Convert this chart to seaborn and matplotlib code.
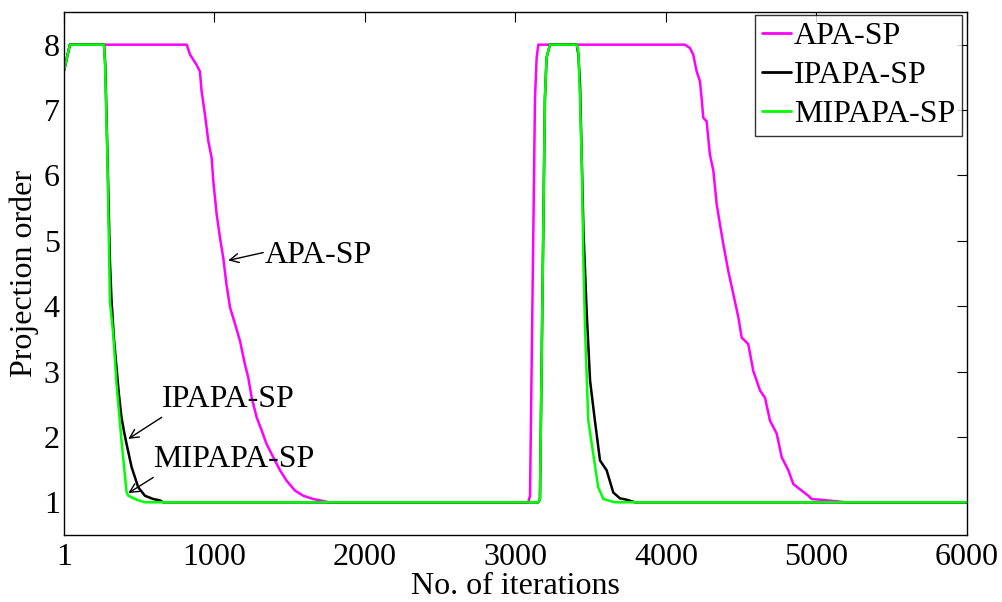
import matplotlib
matplotlib.use("Agg")
import matplotlib.pyplot as plt
import seaborn as sns
import pandas as pd

# ---- data ----
apa_x = [1, 40, 816, 838, 882, 904, 915, 937, 960, 982, 993, 1015, 1037, 1059, 1080, 1104,
         1137, 1170, 1203, 1225, 1248, 1281, 1314, 1347, 1391, 1436, 1480, 1535, 1591, 1657,
         1702, 1760, 3085, 3097, 3108, 3119, 3130, 3141, 3152,
         4126, 4159, 4181, 4204, 4226, 4237, 4248, 4270, 4292, 4315, 4337, 4359, 4381, 4414,
         4448, 4481, 4503, 4547, 4580, 4625, 4658, 4691, 4736, 4769, 4813, 4846, 4901, 4946,
         4968, 5023, 5110, 5200, 6000]
apa_y = [7.6, 8.0, 8.0, 7.85, 7.69, 7.59, 7.29, 6.94, 6.52, 6.27, 5.91, 5.41, 5.05, 4.74, 4.34, 3.98,
         3.73, 3.47, 3.11, 2.91, 2.60, 2.30, 2.10, 1.89, 1.69, 1.49, 1.33, 1.18, 1.10, 1.05,
         1.03, 1.0, 1.0, 1.1, 3.12, 5.15, 7.18, 7.8, 8.0,
         8.0, 7.95, 7.85, 7.59, 7.44, 7.18, 6.88, 6.83, 6.32, 6.07, 5.56, 5.25, 4.95, 4.54,
         4.18, 3.83, 3.52, 3.42, 3.01, 2.71, 2.60, 2.25, 2.05, 1.69, 1.49, 1.28, 1.18, 1.10,
         1.05, 1.04, 1.02, 1.0, 1.0]

ipapa_x = [1, 40, 267, 275, 290, 306, 317, 333, 350, 366, 383, 400, 417, 450, 494, 539, 594, 638, 660,
           3152, 3163, 3174, 3185, 3196, 3207, 3229, 3407, 3418, 3429, 3452, 3474, 3496, 3528,
           3562, 3606, 3650, 3695, 3739, 3794, 6000]
ipapa_y = [7.6, 8.0, 8.0, 7.7, 6.3, 4.7, 4.08, 3.5, 3.06, 2.65, 2.30, 2.08, 1.89, 1.54, 1.23, 1.10, 1.05, 1.03, 1.0,
           1.0, 1.05, 3.11, 5.15, 7.18, 7.8, 8.0, 8.0, 7.85, 7.4, 5.15, 3.88, 2.86, 2.25,
           1.64, 1.49, 1.15, 1.06, 1.04, 1.0, 1.0]

mipapa_x = [1, 40, 267, 275, 290, 306, 328, 350, 383, 417, 428, 483, 540,
            3152, 3163, 3174, 3185, 3196, 3207, 3229, 3407, 3418, 3429, 3441, 3452, 3463, 3484,
            3517, 3550, 3584, 3661, 6000]
mipapa_y = [7.6, 8.0, 8.0, 7.6, 6.2, 4.08, 3.57, 2.81, 1.94, 1.15, 1.10, 1.04, 1.0,
            1.0, 1.05, 3.11, 5.15, 7.18, 7.8, 8.0, 8.0, 7.9, 7.18, 6.17, 4.64, 3.62, 2.25,
            1.74, 1.23, 1.05, 1.0, 1.0]

series_names = ["APA-SP", "IPAPA-SP", "MIPAPA-SP"]
series_colors = ["#FF00FF", "#000000", "#00FF00"]
x_ticks = [1, 1000, 2000, 3000, 4000, 5000, 6000]
y_ticks = [1, 2, 3, 4, 5, 6, 7, 8]

df = pd.concat([
    pd.DataFrame({"x": apa_x, "y": apa_y, "series": series_names[0]}),
    pd.DataFrame({"x": ipapa_x, "y": ipapa_y, "series": series_names[1]}),
    pd.DataFrame({"x": mipapa_x, "y": mipapa_y, "series": series_names[2]}),
], ignore_index=True)

sns.set_style("white")
plt.rcParams["font.family"] = ["Liberation Serif", "DejaVu Serif"]
plt.rcParams["text.color"] = "black"
plt.rcParams["axes.labelcolor"] = "black"
plt.rcParams["xtick.color"] = "black"
plt.rcParams["ytick.color"] = "black"
plt.rcParams["legend.labelcolor"] = "black"

FS = 23

fig = plt.figure(figsize=(10.03, 6.02), dpi=100)
ax = fig.add_axes([0.0638, 0.1113, 0.9003, 0.8688])

sns.lineplot(data=df, x="x", y="y", hue="series", hue_order=series_names,
             palette=dict(zip(series_names, series_colors)), estimator=None, sort=False,
             linewidth=1.8, ax=ax)

ax.set_xlim(1, 6000)
ax.set_ylim(0.5, 8.5)
ax.set_xticks(x_ticks)
ax.set_xticklabels([str(t) for t in x_ticks])
ax.set_yticks(y_ticks)
ax.set_yticklabels([str(t) for t in y_ticks])
ax.tick_params(direction="in", length=7, width=0.8, top=True, right=True,
               labelsize=FS, colors="black", labelcolor="black")
ax.tick_params(axis="x", pad=6)
ax.tick_params(axis="y", pad=3)
for s in ax.spines.values():
    s.set_visible(True)
    s.set_color("black")
    s.set_linewidth(1.0)

ax.set_xlabel("No. of iterations", fontsize=FS, color="black")
ax.set_ylabel("Projection order", fontsize=FS, color="black")
ax.xaxis.set_label_coords(0.5, -0.07)
ax.yaxis.set_label_coords(-0.028, 0.5)

leg = ax.legend(loc="upper right", bbox_to_anchor=(0.995, 0.995), fontsize=FS,
                frameon=True, fancybox=False, handlelength=0.9, handletextpad=0.1,
                labelspacing=0.3, borderpad=0.22, borderaxespad=0.0)
leg.get_frame().set_edgecolor("black")
leg.get_frame().set_linewidth(1.0)
for t in leg.get_texts():
    t.set_color("black")
for h in leg.get_lines():
    h.set_linewidth(2.0)

arrow = dict(arrowstyle="->", color="black", lw=1.0, shrinkA=0, shrinkB=0,
             mutation_scale=16)
ax.annotate("", xy=(1092, 4.70), xytext=(1325, 4.82), arrowprops=arrow)
ax.text(1336, 4.77, "APA-SP", fontsize=FS, va="center", ha="left", color="black")
ax.annotate("", xy=(428, 1.97), xytext=(650, 2.30), arrowprops=arrow)
ax.text(652, 2.58, "IPAPA-SP", fontsize=FS, va="center", ha="left", color="black")
ax.annotate("", xy=(428, 1.14), xytext=(594, 1.38), arrowprops=arrow)
ax.text(594, 1.66, "MIPAPA-SP", fontsize=FS, va="center", ha="left", color="black")

fig.savefig("out.png", dpi=100)
